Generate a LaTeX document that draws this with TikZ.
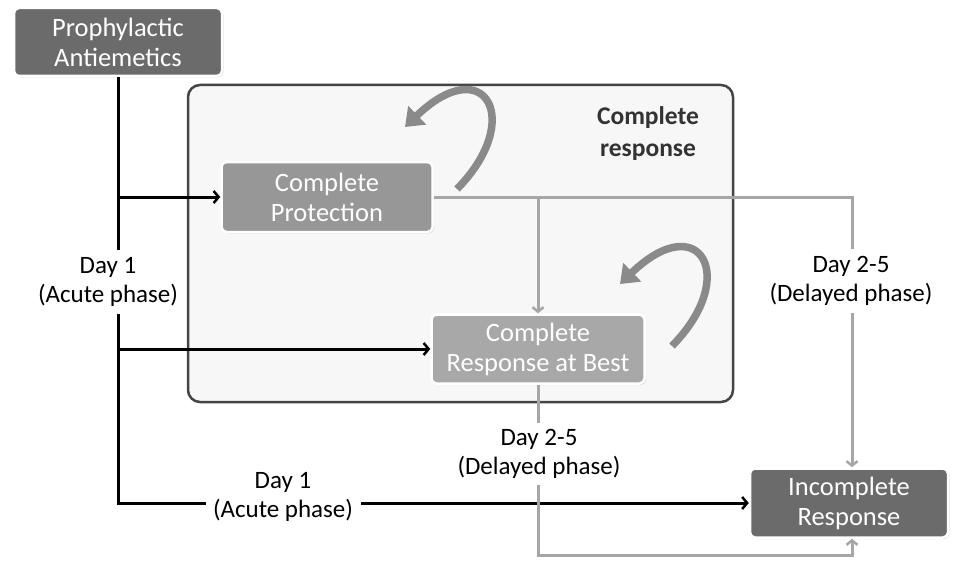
\documentclass[tikz,border=0pt]{standalone}
\usepackage{fontspec}
\setmainfont{Carlito}
\usetikzlibrary{arrows.meta,shadows,calc}
\definecolor{dk}{HTML}{6B6B6B}
\definecolor{md}{HTML}{979797}
\definecolor{lt}{HTML}{A8A8A8}
\definecolor{gl}{HTML}{A6A6A6}
\definecolor{cv}{HTML}{8A8A8A}
\definecolor{bg}{HTML}{F7F7F7}
\definecolor{frame}{HTML}{454545}
\tikzset{
  box/.style={rounded corners=5pt, draw=white, line width=2.5pt, text=white, align=center,
    font=\fontsize{26.5}{30}\selectfont, inner sep=0pt,
    drop shadow={opacity=0.25, shadow xshift=1.5pt, shadow yshift=-1.5pt}},
  lbl/.style={fill=white, align=center, font=\fontsize{25}{28.5}\selectfont, inner sep=0pt},
  blk/.style={draw=black, line width=3pt, -{Straight Barb[length=5pt,width=12pt,line width=2.5pt]}},
  gry/.style={draw=gl, line width=3pt, -{Straight Barb[length=4.5pt,width=11pt,line width=2.5pt]}},
  curv/.style={draw=cv, line width=7.5pt, -{Triangle[length=17pt,width=25pt]}}
}
\begin{document}
\begin{tikzpicture}[x=1pt,y=-1pt]
\useasboundingbox (0,0) rectangle (960,567);
% container
\node[draw=frame, line width=2.5pt, rounded corners=12pt, fill=bg, minimum width=545pt, minimum height=317pt, inner sep=0pt] (cont) at (460.5,243.5) {};
\node[font=\bfseries\fontsize{25.5}{32}\selectfont, text=black!80, align=center] (crt) at (648,134) {Complete\\response};
% boxes
\node[box, fill=dk, minimum width=208pt, minimum height=68pt] (pa) at (118,42) {Prophylactic\\Antiemetics};
\node[box, fill=md, minimum width=211pt, minimum height=70pt] (cp) at (327,197) {Complete\\Protection};
\node[box, fill=lt, minimum width=213pt, minimum height=69pt] (crb) at (538,349) {Complete\\Response at Best};
\node[box, fill=dk, minimum width=198pt, minimum height=69pt] (ir) at (849,503) {Incomplete\\Response};
% black connectors
\coordinate (j1) at (pa.south |- cp.west);
\coordinate (j2) at (pa.south |- crb.west);
\draw[blk] (pa.south) |- (ir.west);
\draw[blk] (j1) -- (cp.west);
\draw[blk] (j2) -- (crb.west);
% gray connectors
\coordinate (irt) at ($(ir.north)+(3,0)$);
\coordinate (irb) at ($(ir.south)+(3,0)$);
\coordinate (j3) at (crb.north |- cp.east);
\coordinate (b1) at ($(irb)+(0,17)$);
\draw[gry] (cp.east) -| (irt);
\draw[gry] (j3) -- (crb.north);
\draw[gry] (crb.south) |- (b1) -- (irb);
% labels
\node[lbl, minimum width=156pt, minimum height=64pt] (l1) at (108,282) {Day 1\\(Acute phase)};
\node[lbl, minimum width=155pt, minimum height=63pt] (l2) at (283,497) {Day 1\\(Acute phase)};
\node[lbl, minimum width=180pt, minimum height=64pt] (l3) at (851,281) {Day 2-5\\(Delayed phase)};
\node[lbl, minimum width=178pt, minimum height=62pt] (l4) at (539,454) {Day 2-5\\(Delayed phase)};
% curved self arrows
\coordinate (c1s) at (457,189);
\coordinate (c1e) at (405,127);
\coordinate (c2s) at (672,346);
\coordinate (c2e) at (620,284);
\draw[curv] (c1s) .. controls (525,120) and (485,50) .. (c1e);
\draw[curv] (c2s) .. controls (740,277) and (700,207) .. (c2e);
\end{tikzpicture}
\end{document}
